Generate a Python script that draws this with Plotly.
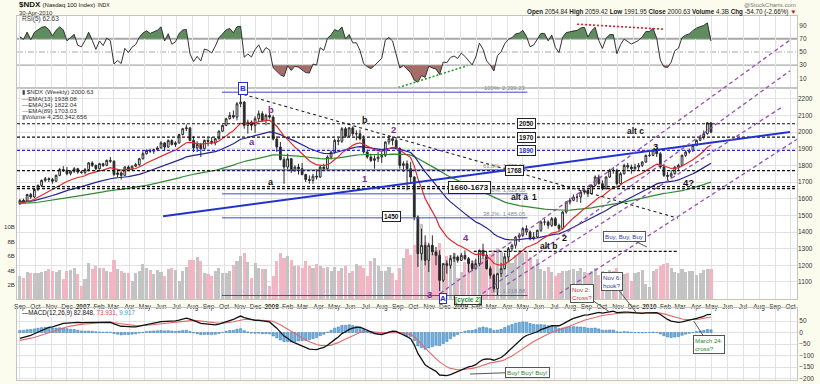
import numpy as np
import pandas as pd
import plotly.graph_objects as go

# ---------------------------------------------------------------- data
week_end = pd.date_range('2006-09-01', '2010-04-30', freq='W-FRI')

close = [
    # 2006
    1590, 1585, 1625, 1610, 1655, 1680, 1710, 1720, 1715, 1705, 1740, 1775, 1770,
    1750, 1765, 1780, 1760, 1757,
    # 2007
    1775, 1815, 1800, 1780, 1810, 1800, 1830, 1825, 1745, 1755, 1740, 1790, 1775,
    1795, 1805, 1840, 1870, 1890, 1885, 1895, 1905, 1935, 1910, 1950, 1925, 1935,
    1985, 2020, 2025, 1950, 1905, 1925, 1900, 1950, 1945, 1935, 1960, 2005, 2040,
    2080, 2100, 2090, 2170, 2180, 2040, 2060, 2040, 2080, 2110, 2070, 2100, 2090,
    # 2008
    1958, 1910, 1835, 1790, 1840, 1770, 1790, 1780, 1745, 1715, 1710, 1735, 1730,
    1790, 1780, 1850, 1880, 1950, 1945, 2020, 1975, 2025, 1990, 1990, 1960, 1880,
    1850, 1830, 1840, 1850, 1860, 1940, 1960, 1950, 1900, 1800, 1810, 1780, 1730,
    1490, 1270, 1320, 1230, 1320, 1280, 1260, 1110, 1210, 1200, 1240, 1250, 1230,
    # 2009
    1260, 1240, 1210, 1180, 1210, 1290, 1260, 1180, 1140, 1060, 1150, 1180, 1250,
    1300, 1320, 1370, 1380, 1420, 1400, 1360, 1370, 1410, 1460, 1460, 1440, 1480,
    1440, 1420, 1520, 1580, 1590, 1610, 1610, 1640, 1650, 1630, 1680, 1730, 1690,
    1660, 1730, 1770, 1770, 1690, 1750, 1800, 1790, 1780, 1790, 1800, 1820, 1860,
    # 2010
    1860, 1890, 1870, 1790, 1740, 1735, 1750, 1790, 1800, 1860, 1880, 1890, 1920,
    1950, 1970, 1990, 2055.33, 2000.63,
]

high = [
    1598, 1600, 1630, 1635, 1660, 1685, 1715, 1730, 1728, 1725, 1745, 1785, 1795,
    1790, 1770, 1790, 1785, 1770,
    1785, 1820, 1825, 1805, 1815, 1815, 1835, 1850, 1830, 1770, 1765, 1795, 1800,
    1800, 1815, 1845, 1885, 1895, 1900, 1900, 1915, 1945, 1940, 1955, 1955, 1945,
    1990, 2025, 2045, 2030, 1975, 1945, 1935, 1955, 1965, 1970, 1965, 2010, 2045,
    2085, 2120, 2130, 2180, 2239, 2185, 2075, 2070, 2095, 2130, 2125, 2110, 2115,
    2100, 1975, 1940, 1850, 1870, 1845, 1800, 1810, 1815, 1750, 1740, 1750, 1775,
    1800, 1810, 1860, 1890, 1960, 1965, 2030, 2030, 2030, 2035, 2010, 2015, 1980,
    1895, 1870, 1860, 1880, 1880, 1945, 1975, 1965, 1960, 1910, 1825, 1830, 1820,
    1735, 1500, 1420, 1380, 1335, 1380, 1310, 1290, 1215, 1230, 1260, 1275, 1260,
    1275, 1290, 1250, 1230, 1240, 1295, 1330, 1280, 1195, 1150, 1155, 1215, 1275,
    1310, 1330, 1375, 1395, 1430, 1440, 1410, 1400, 1415, 1470, 1480, 1470, 1490,
    1490, 1450, 1525, 1585, 1605, 1625, 1625, 1645, 1665, 1660, 1685, 1740, 1745,
    1710, 1735, 1780, 1790, 1780, 1760, 1810, 1815, 1805, 1810, 1815, 1825, 1865,
    1880, 1895, 1900, 1880, 1810, 1760, 1770, 1795, 1810, 1865, 1890, 1900, 1930,
    1955, 1975, 2010, 2060, 2059.42,
]

low = [
    1562, 1575, 1580, 1600, 1605, 1645, 1670, 1700, 1700, 1690, 1700, 1735, 1760,
    1740, 1740, 1755, 1750, 1750,
    1745, 1765, 1790, 1770, 1775, 1790, 1795, 1815, 1735, 1730, 1715, 1740, 1765,
    1770, 1790, 1795, 1835, 1865, 1875, 1870, 1885, 1900, 1885, 1905, 1920, 1910,
    1930, 1980, 2005, 1945, 1880, 1880, 1850, 1895, 1915, 1925, 1920, 1955, 2000,
    2035, 2075, 2080, 2070, 2150, 2020, 1990, 2010, 1995, 2060, 2060, 2040, 2080,
    1950, 1880, 1830, 1690, 1775, 1755, 1760, 1745, 1740, 1700, 1690, 1690, 1715,
    1725, 1765, 1770, 1835, 1870, 1920, 1935, 1965, 1970, 1975, 1950, 1950, 1870,
    1840, 1820, 1780, 1820, 1815, 1850, 1925, 1920, 1895, 1780, 1760, 1650, 1700,
    1470, 1190, 1230, 1200, 1160, 1260, 1200, 1045, 1100, 1150, 1180, 1220, 1215,
    1225, 1230, 1160, 1165, 1175, 1195, 1240, 1175, 1120, 1040, 1020, 1130, 1175,
    1220, 1285, 1300, 1340, 1370, 1380, 1350, 1350, 1365, 1400, 1440, 1420, 1430,
    1435, 1405, 1415, 1510, 1565, 1585, 1580, 1575, 1625, 1610, 1625, 1675, 1685,
    1650, 1655, 1725, 1750, 1680, 1685, 1745, 1775, 1750, 1765, 1770, 1790, 1815,
    1850, 1855, 1850, 1780, 1730, 1710, 1720, 1745, 1770, 1795, 1850, 1870, 1880,
    1915, 1945, 1955, 1985, 1991.95,
]

volume_b = [
    3.2, 3.0, 3.8, 3.6, 3.7, 3.7, 3.8, 4.0, 4.2, 3.9, 3.8, 4.1, 2.8,
    4.0, 4.1, 4.3, 3.5, 1.8,
    2.9, 5.1, 4.2, 4.6, 4.4, 4.4, 4.0, 3.8, 5.5, 4.2, 4.0, 3.7, 3.6,
    2.6, 3.6, 3.9, 4.9, 4.4, 4.1, 3.5, 4.1, 3.8, 3.3, 4.2, 4.3, 4.1,
    2.5, 4.0, 4.5, 5.5, 5.5, 5.9, 5.3, 3.7, 3.5, 3.3, 3.9, 4.3, 3.7,
    3.6, 4.0, 4.8, 5.4, 6.0, 6.5, 5.2, 3.0, 5.0, 4.4, 4.2, 4.2, 1.8,
    3.2, 5.4, 6.5, 5.8, 6.0, 5.5, 4.7, 4.6, 4.3, 5.3, 4.7, 4.3, 4.9,
    4.7, 4.3, 4.5, 4.0, 4.5, 4.0, 4.3, 4.7, 3.6, 4.0, 4.9, 4.7, 4.3,
    3.2, 5.3, 5.8, 4.7, 4.0, 4.0, 4.5, 3.6, 2.7, 4.3, 5.8, 7.0, 6.2,
    7.5, 9.5, 10.5, 8.0, 7.0, 6.5, 6.8, 7.8, 4.5, 6.0, 6.2, 6.5, 3.0,
    3.8, 5.2, 5.6, 5.4, 5.5, 5.3, 5.8, 6.0, 6.3, 6.9, 7.2, 6.6, 6.0,
    6.5, 5.0, 6.2, 6.8, 6.4, 6.6, 5.9, 4.6, 5.6, 4.2, 3.9, 4.5, 3.8,
    3.2, 3.6, 3.9, 4.0, 4.1, 4.2, 3.9, 4.4, 3.8, 3.6, 3.9, 4.3, 3.4,
    4.0, 3.6, 4.1, 3.9, 4.4, 3.8, 3.5, 3.6, 2.6, 3.6, 3.8, 4.1, 2.2,
    1.7, 3.9, 4.2, 4.6, 4.9, 5.1, 4.3, 3.8, 3.7, 4.2, 3.8, 4.0, 3.9,
    3.4, 3.6, 4.1, 4.2, 4.25,
]

first_open = 1570.0
last_open = 2054.84

# indicator state before the first bar
ema_seed = {13: 1572.0, 34: 1580.0, 89: 1572.0}
macd_seed = {'ema12': 1560.0, 'ema26': 1590.0, 'signal': -36.0}
rsi_seed = {'prev': 1570.0, 'gain': 14.0, 'loss': 7.0}

levels_black = [2050, 1970, 1768, 1673, 1660]
level_blue = 1890
level_alt_b = 1284
fib_high, fib_low = 2239.23, 1018.88
fib_ratios = [1.0, 0.618, 0.5, 0.382, 0.0]

month_ticks = pd.date_range('2006-09-01', '2010-10-01', freq='MS')
month_labels = [f'<b>{m.year}</b>' if m.month == 1 else m.strftime('%b') for m in month_ticks]

# ---------------------------------------------------------------- derived series
assert len(week_end) == len(close) == len(high) == len(low) == len(volume_b)
opens = [first_open] + close[:-1]
opens[-1] = last_open


def ema(vals, n, seed):
    a = 2.0 / (n + 1)
    e = seed
    out = []
    for v in vals:
        e = e + a * (v - e)
        out.append(e)
    return np.array(out)


ema13 = ema(close, 13, ema_seed[13])
ema34 = ema(close, 34, ema_seed[34])
ema89 = ema(close, 89, ema_seed[89])
macd = ema(close, 12, macd_seed['ema12']) - ema(close, 26, macd_seed['ema26'])
signal = ema(macd, 9, macd_seed['signal'])
hist = macd - signal

rsi = []
prev, ag, al = rsi_seed['prev'], rsi_seed['gain'], rsi_seed['loss']
for c in close:
    ch = c - prev
    ag = (ag * 4 + max(ch, 0)) / 5
    al = (al * 4 + max(-ch, 0)) / 5
    rsi.append(100 - 100 / (1 + ag / al) if al > 0 else 100)
    prev = c
rsi = np.array(rsi)

tns = week_end.values.astype('datetime64[ns]').astype(np.int64)
xs, ys = [tns[0]], [rsi[0]]
for i in range(1, len(rsi)):
    y0, y1 = rsi[i - 1], rsi[i]
    cr = []
    for L in (30, 70):
        if (y0 - L) * (y1 - L) < 0:
            cr.append(((L - y0) / (y1 - y0), L))
    for f, L in sorted(cr):
        xs.append(int(tns[i - 1] + f * (tns[i] - tns[i - 1])))
        ys.append(L)
    xs.append(tns[i])
    ys.append(rsi[i])
xs = pd.to_datetime(np.array(xs, dtype=np.int64))
ys = np.array(ys)

vol_colors = ['#c3c3c3'] + ['#f2b6c3' if close[i] < close[i - 1] else '#c3c3c3'
                            for i in range(1, len(close))]

# ---------------------------------------------------------------- geometry
W, H = 820, 384
ML, MR, MT, MB = 17, 23, 16, 2
RSI_DOM = [0.8033, 1.0]
MAIN_DOM = [0.2213, 0.8033]
MACD_DOM = [0.0, 0.1967]
X_RANGE = ['2006-08-26 10:00', '2010-10-13 10:00']
PRICE_RANGE = [995.2, 2266.9]
VOL_RANGE = [0, 29.38]
RSI_RANGE = [-3.9, 104.5]
MACD_RANGE = [-205.6, 104.7]


def main_paper(p):
    return MAIN_DOM[0] + (p - PRICE_RANGE[0]) / (PRICE_RANGE[1] - PRICE_RANGE[0]) * (MAIN_DOM[1] - MAIN_DOM[0])


FONT = 'Liberation Sans, Arial, sans-serif'
PURPLE = '#7a2e8e'
TRIM = '#9a4fb8'

fig = go.Figure()

# ---- RSI panel
fig.add_trace(go.Scatter(x=xs, y=[70] * len(xs), mode='lines', line=dict(width=0),
                         xaxis='x', yaxis='y', hoverinfo='skip', showlegend=False))
fig.add_trace(go.Scatter(x=xs, y=np.maximum(ys, 70), mode='lines', line=dict(width=0),
                         fill='tonexty', fillcolor='#5f8d5f', xaxis='x', yaxis='y',
                         hoverinfo='skip', showlegend=False))
fig.add_trace(go.Scatter(x=xs, y=[30] * len(xs), mode='lines', line=dict(width=0),
                         xaxis='x', yaxis='y', hoverinfo='skip', showlegend=False))
fig.add_trace(go.Scatter(x=xs, y=np.minimum(ys, 30), mode='lines', line=dict(width=0),
                         fill='tonexty', fillcolor='#a56d68', xaxis='x', yaxis='y',
                         hoverinfo='skip', showlegend=False))
fig.add_trace(go.Scatter(x=week_end, y=rsi, mode='lines', line=dict(color='#333333', width=1),
                         xaxis='x', yaxis='y', showlegend=False))

# ---- volume (underneath price)
fig.add_trace(go.Bar(x=week_end, y=volume_b, marker=dict(color=vol_colors, line=dict(width=0)),
                     width=6 * 86400000, xaxis='x', yaxis='y2', showlegend=False))

# ---- price
fig.add_trace(go.Candlestick(
    x=week_end, open=opens, high=high, low=low, close=close, xaxis='x', yaxis='y4',
    increasing=dict(line=dict(color='#2a2a2a', width=1), fillcolor='white'),
    decreasing=dict(line=dict(color='#2a2a2a', width=1), fillcolor='#2a2a2a'),
    whiskerwidth=0, showlegend=False))
for series, col in ((ema89, '#2f8a2f'), (ema34, '#23238f'), (ema13, '#e02a2a')):
    fig.add_trace(go.Scatter(x=week_end, y=series, mode='lines', line=dict(color=col, width=1.2),
                             xaxis='x', yaxis='y4', showlegend=False))

# ---- MACD
fig.add_trace(go.Bar(x=week_end, y=hist, width=4.5 * 86400000,
                     marker=dict(color='#74b2df', line=dict(color='#2f74b0', width=0.5)),
                     xaxis='x', yaxis='y3', showlegend=False))
fig.add_trace(go.Scatter(x=week_end, y=signal, mode='lines', line=dict(color='#e06a6a', width=1.1),
                         xaxis='x', yaxis='y3', showlegend=False))
fig.add_trace(go.Scatter(x=week_end, y=macd, mode='lines', line=dict(color='#111111', width=1.3),
                         xaxis='x', yaxis='y3', showlegend=False))

# ---------------------------------------------------------------- shapes
shapes = []
# RSI guide lines
shapes.append(dict(type='line', xref='paper', yref='y', x0=0, x1=1, y0=70, y1=70,
                   line=dict(color='#a8a8a8', width=2), layer='below'))
shapes.append(dict(type='line', xref='paper', yref='y', x0=0, x1=1, y0=30, y1=30,
                   line=dict(color='#a8a8a8', width=1.2), layer='below'))
shapes.append(dict(type='line', xref='paper', yref='y', x0=0, x1=1, y0=50, y1=50,
                   line=dict(color='#a8a8a8', width=1, dash='6px,2px,1px,2px'), layer='below'))
# RSI divergence marks
shapes.append(dict(type='line', xref='x', yref='y', x0='2009-08-14', y0=92.1, x1='2010-01-27', y1=84.6,
                   line=dict(color='#e02020', width=1.6, dash='2px,2px')))
shapes.append(dict(type='line', xref='x', yref='y', x0='2008-09-02', y0=-3.9, x1='2009-01-14', y1=29.4,
                   line=dict(color='#2a9a2a', width=1.6, dash='2px,2px')))

# horizontal price levels
for lv in levels_black:
    shapes.append(dict(type='line', xref='paper', yref='y4', x0=0, x1=1, y0=lv, y1=lv,
                       line=dict(color='#111111', width=1.2, dash='3px,2px')))
shapes.append(dict(type='line', xref='paper', yref='y4', x0=0, x1=1, y0=level_blue, y1=level_blue,
                   line=dict(color='#2626d0', width=1.2, dash='3px,2px')))
shapes.append(dict(type='line', xref='x', yref='y4', x0='2009-01-26', x1='2010-02-25',
                   y0=level_alt_b, y1=level_alt_b, line=dict(color='#111111', width=1.2, dash='3px,2px')))

# fibonacci retracement lines
for r in fib_ratios:
    v = fib_low + r * (fib_high - fib_low)
    shapes.append(dict(type='line', xref='x', yref='y4', x0='2007-09-27', x1='2009-05-10', y0=v, y1=v,
                       line=dict(color='#4646c0', width=1)))

# trend lines
shapes.append(dict(type='line', xref='x', yref='y4', x0='2007-10-28', y0=2235, x1='2010-02-25', y1=1483,
                   line=dict(color='#222222', width=1.1, dash='3px,3px')))
shapes.append(dict(type='line', xref='x', yref='y4', x0='2007-06-05', y0=1495, x1='2010-09-30', y1=2000,
                   line=dict(color='#2233cc', width=2)))

# rising channel lines (extend above the price panel)
channel = [
    ('2008-11-22', 1031, '2010-09-30', 2553),
    ('2009-02-12', 1031, '2010-09-30', 2368),
    ('2009-03-31', 1085, '2010-09-16', 2153),
    ('2009-07-11', 1031, '2010-10-13', 1956),
]
for d0, p0, d1, p1 in channel:
    shapes.append(dict(type='line', xref='x', yref='paper', x0=d0, x1=d1,
                       y0=main_paper(p0), y1=main_paper(p1),
                       line=dict(color=TRIM, width=1.3, dash='4px,3px')))

# ---------------------------------------------------------------- annotations
ann = []


def txt(text, x, y, xref='x', yref='y4', size=8, color='#111', bold=True, **kw):
    t = f'<b>{text}</b>' if bold else text
    d = dict(text=t, x=x, y=y, xref=xref, yref=yref, showarrow=False,
             font=dict(family=FONT, size=size, color=color))
    d.update(kw)
    ann.append(d)


# header
txt('<b>$NDX</b> <span style="font-size:6px">(Nasdaq 100 Index)</span> <span style="font-size:5px">INDX</span>',
    0, 1.0320, xref='paper', yref='paper', size=8, bold=False, xanchor='left', yanchor='middle')
txt('30-Apr-2010', 0, 1.0095, xref='paper', yref='paper', size=6, bold=False, color='#333',
    xanchor='left', yanchor='middle')
txt('@StockCharts.com', 1.0013, 1.0306, xref='paper', yref='paper', size=6, bold=False, color='#777',
    xanchor='right', yanchor='middle')
txt('<b>Open</b> 2054.84 <b>High</b> 2059.42 <b>Low</b> 1991.95 <b>Close</b> 2000.63 '
    '<b>Volume</b> 4.3B <b>Chg</b> -54.70 (-2.66%) <span style="color:#d01010">▼</span>',
    1.0013, 1.0098, xref='paper', yref='paper', size=6.3, bold=False, color='#222',
    xanchor='right', yanchor='middle')
txt('RSI(5) 62.63', 0.004, 0.9918, xref='paper', yref='paper', size=6.5, bold=False, color='#333',
    xanchor='left', yanchor='middle')

# price panel legend
legend_rows = [
    ('<span style="color:#444">▮</span> $NDX (Weekly) 2000.63', 0.7915),
    ('<span style="color:#e02a2a">—</span>EMA(13) 1938.08', 0.7745),
    ('<span style="color:#23238f">—</span>EMA(34) 1822.04', 0.7575),
    ('<span style="color:#2f8a2f">—</span>EMA(89) 1703.03', 0.7405),
    ('<span style="color:#888">▮</span>Volume 4,250,342,656', 0.7235),
]
for t, yy in legend_rows:
    txt(t, 0.004, yy, xref='paper', yref='paper', size=6.2, bold=False, color='#333',
        xanchor='left', yanchor='middle')

txt('—<span style="color:#111">MACD(12,26,9) 82.848,</span> <span style="color:#d05050">73.931,</span> '
    '<span style="color:#4a9ad0">9.917</span>', 0.004, 0.1830, xref='paper', yref='paper',
    size=6.3, bold=False, color='#111', xanchor='left', yanchor='middle')

# wave labels
wave_labels = [
    ('b', '2007-12-30', 2135, PURPLE, 9.5), ('a', '2007-11-25', 1943, PURPLE, 9.5),
    ('2', '2008-08-24', 2016, PURPLE, 9.5), ('1', '2008-06-29', 1724, PURPLE, 9.5),
    ('4', '2009-01-11', 1365, PURPLE, 9.5), ('3', '2008-11-02', 1027, PURPLE, 9.5),
    ('b', '2008-06-29', 2070, '#111', 9), ('a', '2007-12-30', 1698, '#111', 9),
    ('alt a', '2009-04-25', 1612, '#111', 8.5), ('1', '2009-05-24', 1612, '#111', 8.5),
    ('2', '2009-07-20', 1365, '#111', 9), ('alt b', '2009-06-19', 1319, '#111', 8.5),
    ('alt c', '2009-12-04', 2006, '#111', 8.5), ('3', '2010-01-12', 1916, '#111', 9.5),
    ('4?', '2010-03-17', 1698, '#111', 9.5),
]
for t, d, p, c, s in wave_labels:
    txt(t, d, p, size=s, color=c)

# fib labels
for r in fib_ratios:
    v = fib_low + r * (fib_high - fib_low)
    txt(f'{r * 100:g}%: {v:,.2f}', '2009-05-10', v, size=5.8, bold=False, color='#8a8a8a',
        xanchor='right', yanchor='bottom', yshift=-1)

# boxed level labels
boxes = [
    ('2050', '2009-05-08', 2050, '#111', 6.5), ('1970', '2009-05-08', 1970, '#111', 6.5),
    ('1890', '2009-05-08', 1890, '#2233cc', 6.5), ('1768', '2009-04-14', 1768, '#111', 6.5),
    ('1660-1673', '2009-01-18', 1666.5, '#111', 8), ('1450', '2008-08-20', 1495, '#111', 6.5),
]
for t, d, p, c, s in boxes:
    txt(t, d, p, size=s, color=c, bgcolor='white', bordercolor='#222', borderwidth=1, borderpad=1)

# boxed wave-degree markers
txt('B', '2007-11-06', 0.8183, yref='paper', size=8, color='#2233cc', bgcolor='white',
    bordercolor='#2233cc', borderwidth=1, borderpad=1)
txt('A', '2008-11-27', 0.2077, yref='paper', size=8, color='#2233cc', bgcolor='white',
    bordercolor='#2233cc', borderwidth=1, borderpad=0)
txt('[cycle 2]', '2009-01-14', 0.2070, yref='paper', size=6.5, color='#2a8a2a', bgcolor='white',
    bordercolor='#333', borderwidth=1, borderpad=0)

# call-outs
callouts = [
    ('Buy, Buy, Buy', '2009-12-27', 1310, 'y4', -22, -11, '#2a3aaa'),
    ('Nov 2:<br>Cross?', '2009-10-17', 87.5, 'y3', -28, -19, '#cc2a2a'),
    ('Nov 6:<br>hook?', '2009-12-06', 87.5, 'y3', -24, -31, '#2a3aaa'),
    ('Buy! Buy! Buy!', '2009-01-19', -179.7, 'y3', 57, -2, '#2a8a2a'),
    ('March 24:<br>cross?', '2010-03-28', 48.7, 'y3', 15, 23, '#2a8a2a'),
]
for t, d, v, yr, axp, ayp, c in callouts:
    ann.append(dict(text=t, x=d, y=v, xref='x', yref=yr, showarrow=True, arrowhead=0,
                    arrowwidth=1, arrowcolor='#555', ax=axp, ay=ayp, standoff=0,
                    font=dict(family=FONT, size=6.2, color=c), align='left',
                    bgcolor='white', bordercolor='#555', borderwidth=1, borderpad=1))

# ---------------------------------------------------------------- layout
axis_font = dict(family=FONT, size=6.5, color='#333')
fig.update_layout(
    width=W, height=H, margin=dict(l=ML, r=MR, t=MT, b=MB),
    paper_bgcolor='#fcfcee', plot_bgcolor='white', showlegend=False,
    font=dict(family=FONT), bargap=0, hovermode=False,
    xaxis=dict(type='date', range=X_RANGE, anchor='y2', tickvals=month_ticks, ticktext=month_labels,
               tickfont=axis_font, ticks='', showgrid=True, gridcolor='#e2e2e2', gridwidth=1,
               zeroline=False, showline=True, linecolor='#c4c4c4', mirror='all',
               rangeslider=dict(visible=False), ticklabelstandoff=1),
    yaxis=dict(domain=RSI_DOM, range=RSI_RANGE, side='right', anchor='x',
               tickvals=[10, 30, 50, 70, 90], tickfont=axis_font, ticks='', showgrid=False,
               zeroline=False, showline=True, linecolor='#c4c4c4', mirror=True),
    yaxis2=dict(domain=MAIN_DOM, range=VOL_RANGE, side='left', anchor='x',
                tickvals=[2, 4, 6, 8, 10], ticktext=['2B', '4B', '6B', '8B', '10B'],
                tickfont=dict(family=FONT, size=6, color='#333'), ticks='', showgrid=False,
                zeroline=False, showline=True, linecolor='#c4c4c4', mirror=True),
    yaxis4=dict(overlaying='y2', range=PRICE_RANGE, side='right', anchor='x',
                tickvals=list(range(1100, 2300, 100)), tickfont=axis_font, ticks='',
                showgrid=True, gridcolor='#e2e2e2', zeroline=False, showline=False),
    yaxis3=dict(domain=MACD_DOM, range=MACD_RANGE, side='right', anchor='x',
                tickvals=[-200, -150, -100, -50, 0, 50], tickfont=axis_font, ticks='',
                showgrid=True, gridcolor='#e2e2e2', zeroline=False, showline=True,
                linecolor='#c4c4c4', mirror=True),
    shapes=shapes, annotations=ann,
)

fig.write_html('out.html', config={'displayModeBar': False, 'staticPlot': True},
               post_script="document.body.style.margin='0px';document.body.style.overflow='hidden';")
